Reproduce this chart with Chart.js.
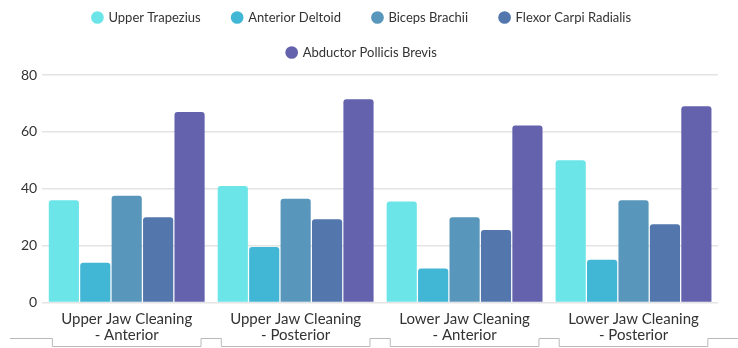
<!DOCTYPE html>
<html>
<head>
<meta charset="utf-8">
<script src="https://cdn.jsdelivr.net/npm/chart.js@4"></script>
<style>
  html, body { margin: 0; padding: 0; background: #fff; }
  #wrap { width: 738px; height: 348px; }
</style>
</head>
<body>
<div id="wrap"><canvas id="muscleChart"></canvas></div>
<script>
// tasks on the x axis, each label split over two lines
const tasks = [
  ['Upper Jaw Cleaning', '- Anterior'],
  ['Upper Jaw Cleaning', '- Posterior'],
  ['Lower Jaw Cleaning', '- Anterior'],
  ['Lower Jaw Cleaning', '- Posterior']
];
const muscles = ['Upper Trapezius', 'Anterior Deltoid', 'Biceps Brachii', 'Flexor Carpi Radialis', 'Abductor Pollicis Brevis'];
const upperTrapezius = [36, 41, 35.5, 50];
const anteriorDeltoid = [14, 19.5, 12, 15];
const bicepsBrachii = [37.5, 36.5, 30, 36];
const flexorCarpi = [30, 29.3, 25.5, 27.5];
const abductorPollicis = [67, 71.5, 62.2, 69];
const yTicks = [0, 20, 40, 60, 80];

const colors = ['#6ce5e8', '#41b6d5', '#5897bb', '#5377ad', '#6461ad'];
const series = [upperTrapezius, anteriorDeltoid, bicepsBrachii, flexorCarpi, abductorPollicis];

const textColor = '#333';
const fontName = 'Lato';

// push the plot area down a bit under the legend
const legendGap = {
  id: 'legendGap',
  beforeInit(chart) {
    const fit = chart.legend.fit;
    chart.legend.fit = function () {
      fit.bind(chart.legend)();
      this.height += 6;
    };
  }
};

// thin stepped line under each group of bars
const groupBrackets = {
  id: 'groupBrackets',
  afterDraw(chart) {
    const x = chart.scales.x;
    const ctx = chart.ctx;
    const step = x.getPixelForValue(1) - x.getPixelForValue(0);
    const half = step * 0.44;
    const yTop = 338.5, yLow = 346.5;
    ctx.save();
    ctx.strokeStyle = '#b9b9b9';
    ctx.lineWidth = 1;
    ctx.beginPath();
    ctx.moveTo(10, yTop);
    tasks.forEach((t, i) => {
      const c = x.getPixelForValue(i);
      ctx.lineTo(c - half, yTop);
      ctx.lineTo(c - half, yLow);
      ctx.lineTo(c + half, yLow);
      ctx.lineTo(c + half, yTop);
    });
    ctx.lineTo(chart.width, yTop);
    ctx.stroke();
    ctx.restore();
  }
};

const ctx = document.getElementById('muscleChart').getContext('2d');
const chart = new Chart(ctx, {
  type: 'bar',
  data: {
    labels: tasks,
    datasets: muscles.map((m, i) => ({
      label: m,
      data: series[i],
      backgroundColor: colors[i],
      borderRadius: 3,
      borderSkipped: 'bottom',
      categoryPercentage: 0.93,
      barPercentage: 0.96
    }))
  },
  options: {
    responsive: true,
    maintainAspectRatio: false,
    animation: false,
    layout: { padding: { top: -11, left: 16, right: 20, bottom: 4 } },
    plugins: {
      legend: {
        position: 'top',
        labels: {
          usePointStyle: true,
          pointStyle: 'circle',
          boxWidth: 9,
          boxHeight: 9,
          padding: 22,
          color: textColor,
          font: { family: fontName, size: 13 },
          generateLabels(chart) {
            const items = Chart.defaults.plugins.legend.labels.generateLabels(chart);
            items.forEach(it => { it.text = it.text + '   '; });
            return items;
          }
        }
      },
      tooltip: { enabled: false }
    },
    scales: {
      x: {
        grid: { display: false },
        border: { display: false },
        ticks: {
          color: textColor,
          padding: 1,
          maxRotation: 0,
          font: { family: fontName, size: 15, lineHeight: 1.05 }
        }
      },
      y: {
        min: 0,
        max: 80,
        afterBuildTicks: (axis) => { axis.ticks = yTicks.map(v => ({ value: v })); },
        grid: { color: '#e4e4e4', lineWidth: 1.5, drawTicks: false },
        border: { display: false },
        ticks: {
          color: textColor,
          padding: 5,
          font: { family: fontName, size: 14 }
        }
      }
    }
  },
  plugins: [legendGap, groupBrackets]
});
</script>
</body>
</html>
